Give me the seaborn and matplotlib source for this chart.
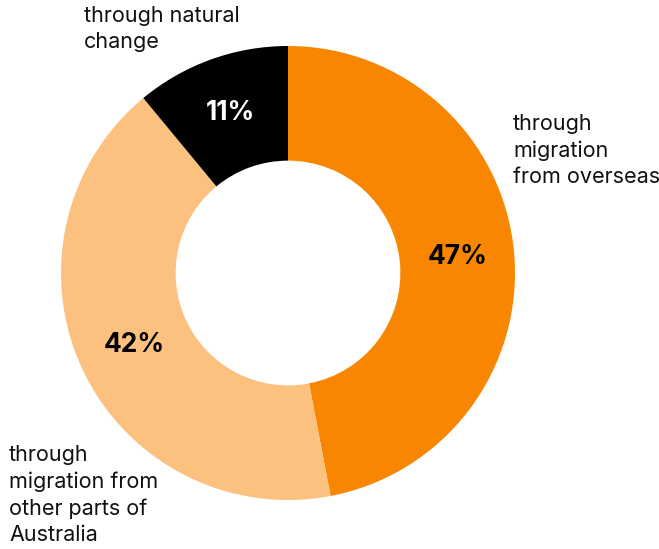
import matplotlib
matplotlib.use("Agg")
import matplotlib.pyplot as plt
import seaborn as sns

sources = ["through\nmigration\nfrom overseas",
           "through\nmigration from\nother parts of\nAustralia",
           "through natural\nchange"]
shares = [47, 42, 11]
colours = ["#F98600", "#FDC17F", "#000000"]

sns.set_theme(style="white")
plt.rcParams['font.family'] = ['Inter', 'DejaVu Sans']

W, H = 659, 549
cx, cy, R = 288, 273, 227

fig = plt.figure(figsize=(W / 100, H / 100), dpi=100)
ax = fig.add_axes([0, 0, 1, 1])

wedges, _, pcts = ax.pie(shares, colors=colours, startangle=90, counterclock=False,
                         radius=1, wedgeprops=dict(width=0.505, linewidth=0),
                         autopct="%d%%", pctdistance=0.75)
for t, c in zip(pcts, colours):
    t.set_fontsize(19)
    t.set_fontweight("bold")
    t.set_color("white" if c == "#000000" else "black")

# pie() resets the limits, so place the ring afterwards
ax.set_xlim(-cx / R, (W - cx) / R)
ax.set_ylim(-(H - cy) / R, cy / R)
ax.set_aspect("equal")
ax.axis("off")

# category labels outside the ring
label_pos = [(513, 114), (9, 445), (84, 6)]
for txt, (px, py) in zip(sources, label_pos):
    fig.text(px / W, 1 - py / H, txt, ha="left", va="top", fontsize=15.5,
             color="#111111", linespacing=1.38)

fig.savefig("out.png", dpi=100)
